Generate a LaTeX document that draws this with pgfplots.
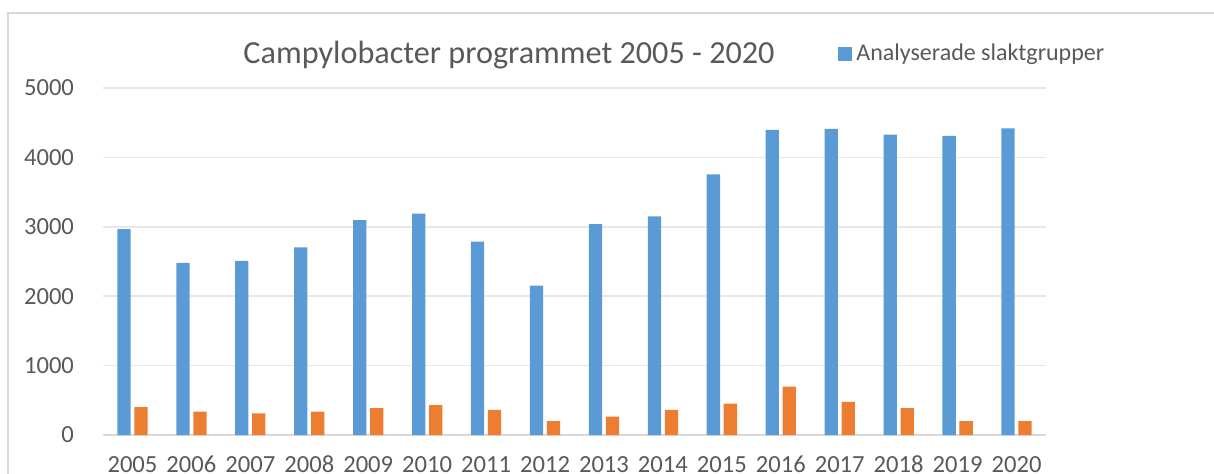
\documentclass[border=0pt]{standalone}
\usepackage{pgfplots}
\pgfplotsset{compat=1.18}
\usepackage{fontspec}
\setmainfont{Carlito}
\definecolor{cblue}{HTML}{5B9BD5}
\definecolor{corange}{HTML}{ED7D31}
\definecolor{txt}{HTML}{595959}
\definecolor{gridc}{HTML}{E8E8E8}
\definecolor{framec}{HTML}{D9D9D9}
\begin{document}
\begin{tikzpicture}[x=1pt,y=1pt]
\useasboundingbox (0,0) rectangle (607,236.5);
\draw[framec, line width=0.8pt] (4,-5) -- (4,230) -- (620,230);
\begin{axis}[
  at={(51.5pt,19pt)}, anchor=south west,
  scale only axis, width=471.5pt, height=173.5pt,
  ybar, bar width=6.65pt,
  xmin=-0.5, xmax=15.5, ymin=0, ymax=5000,
  xtick={0,...,15},
  xticklabels={2005,2006,2007,2008,2009,2010,2011,2012,2013,2014,2015,2016,2017,2018,2019,2020},
  ytick={0,1000,...,5000},
  ymajorgrids, xmajorgrids=false, grid style={draw=gridc, line width=0.75pt},
  axis x line*=bottom, axis y line*=left,
  x axis line style={draw=framec, line width=1pt, -},
  y axis line style={draw=none},
  major tick length=0pt, tick style={draw=none},
  tick label style={font=\fontsize{12.3}{14}\selectfont, text=txt},
  /pgf/number format/assume math mode=true,
  /pgf/number format/1000 sep={},
  yticklabel style={anchor=east, xshift=-11pt},
  xticklabel style={yshift=-7pt},
  legend style={draw=none, fill=none, inner sep=0pt, at={(0.7794,1.098)}, anchor=west,
    font=\fontsize{12}{14}\selectfont, text=txt},
  legend image code/.code={\fill[#1] (0pt,-3.5pt) rectangle (7pt,3.5pt);},
]
\addplot[fill=cblue, draw=none, bar shift=-4.25pt] coordinates {
(0,2967) (1,2481) (2,2510) (3,2705) (4,3095) (5,3190) (6,2786) (7,2152)
(8,3038) (9,3152) (10,3755) (11,4395) (12,4410) (13,4329) (14,4310) (15,4418)};
\addlegendentry{Analyserade slaktgrupper}
\addplot[fill=corange, draw=none, bar shift=4.25pt] coordinates {
(0,402) (1,337) (2,312) (3,337) (4,387) (5,432) (6,362) (7,201)
(8,266) (9,362) (10,452) (11,698) (12,477) (13,387) (14,201) (15,201)};
\end{axis}
\node[text=txt, font=\fontsize{16.1}{19}\selectfont, anchor=base] at (254.5,205) {Campylobacter programmet 2005 - 2020};
\end{tikzpicture}
\end{document}
